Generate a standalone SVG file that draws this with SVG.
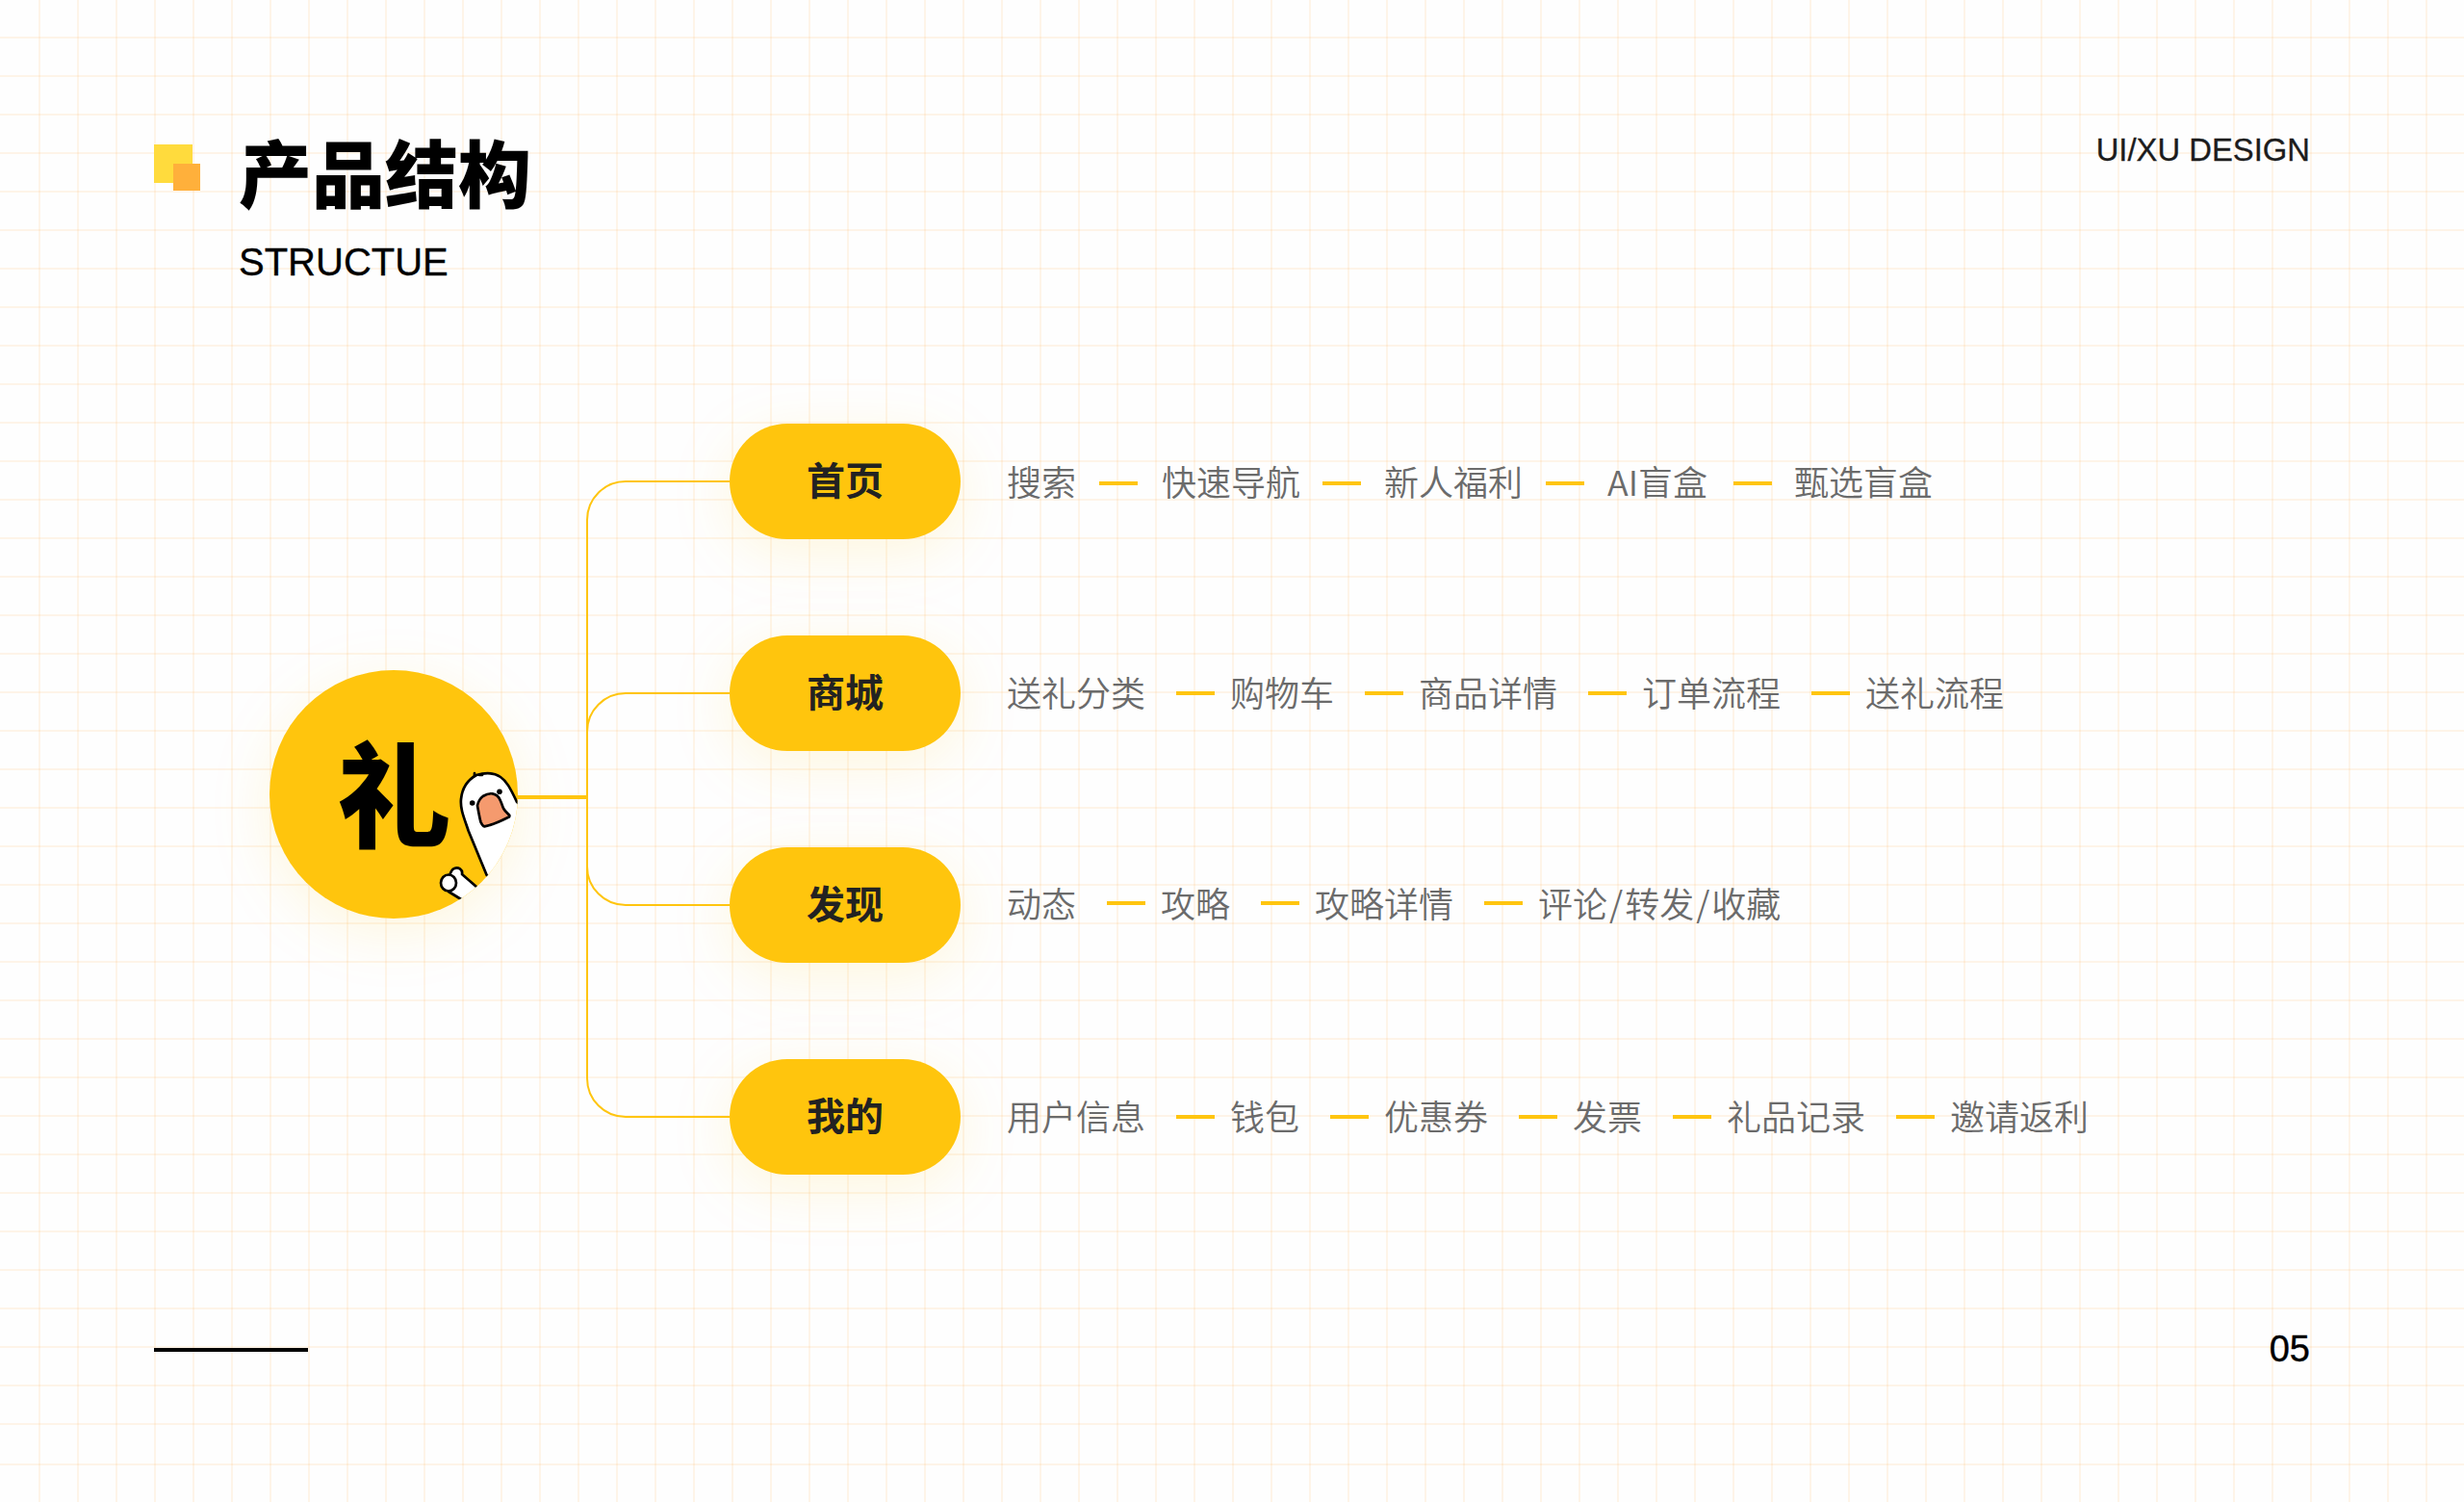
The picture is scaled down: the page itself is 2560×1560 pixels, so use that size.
<svg xmlns="http://www.w3.org/2000/svg" width="2560" height="1560" viewBox="0 0 2560 1560">
<style>
.cn{font-family:"Noto Sans CJK SC","Liberation Sans",sans-serif}
.item{font-family:"Noto Sans CJK SC","Liberation Sans",sans-serif;font-size:36px;fill:#6b6b6b;font-weight:350}
.nav{font-family:"Noto Sans CJK SC",sans-serif;font-size:40px;font-weight:700;fill:#222;text-anchor:middle}
.lat{font-family:"Liberation Sans",Arial,sans-serif;fill:#000}
.dash{stroke:#ffc50f;stroke-width:4;fill:none}
.link{stroke:#ffc50f;stroke-width:2;fill:none}
.pill{fill:#ffc50f;filter:url(#glow)}
.gline{stroke:#000;stroke-width:2.700;stroke-linejoin:round;stroke-linecap:round}
</style>
<defs>
<pattern id="gridV" width="40" height="40" patternUnits="userSpaceOnUse">
<rect x="0" y="0" width="2" height="40" fill="#ffa733" fill-opacity=".11"/>
</pattern>
<pattern id="gridH" width="40" height="40" patternUnits="userSpaceOnUse">
<rect x="0" y="38" width="40" height="2" fill="#ffa733" fill-opacity=".11"/>
</pattern>
<filter id="glow" x="-50%" y="-80%" width="200%" height="280%">
<feDropShadow dx="0" dy="14" stdDeviation="30" flood-color="#ffc50f" flood-opacity=".13"/>
</filter>
<clipPath id="disc"><circle cx="409" cy="825" r="129"/></clipPath>
</defs>
<rect width="2560" height="1560" fill="#fefefe"/>
<rect x="40" y="0" width="2520" height="1560" fill="url(#gridV)"/>
<rect x="0" y="0" width="2560" height="1500" fill="url(#gridH)"/>
<rect x="0" y="1520" width="2560" height="2" fill="#ffa733" fill-opacity=".11"/>

<g id="header">
<rect x="160" y="150" width="40" height="40" fill="#ffdb3d"/>
<rect x="180" y="170" width="28" height="28" fill="#ffb03b"/>
<text class="cn" x="248" y="210" font-size="76" font-weight="900" fill="#000">产品结构</text>
<text class="lat" x="248" y="286" font-size="40" stroke="#000" stroke-width=".3">STRUCTUE</text>
<text class="lat" x="2400" y="167" font-size="32.800" text-anchor="end" style="fill:#1c1c1c" stroke="#1c1c1c" stroke-width=".3">UI/XU DESIGN</text>
</g>

<g id="connectors">
<path class="link" d="M758 500H650a40 40 0 0 0-40 40V1120a40 40 0 0 0 40 40H758"/>
<path class="link" d="M758 720H650a40 40 0 0 0-40 40V900a40 40 0 0 0 40 40H758"/>
<path d="M536 828H610" stroke="#ffc50f" stroke-width="4" fill="none"/>
<path class="dash" d="M1142 502h40M1374 502h40M1606 502h40M1801 502h40"/>
<path class="dash" d="M1222 720h40M1418 720h40M1650 720h40M1882 720h40"/>
<path class="dash" d="M1150 938h40M1310 938h40M1542 938h40"/>
<path class="dash" d="M1222 1160h40M1382 1160h40M1578 1160h40M1738 1160h40M1970 1160h40"/>
</g>

<g id="root">
<circle cx="409" cy="825" r="129" fill="#ffc50f" filter="url(#glow)"/>
<text class="cn" x="409" y="871" font-size="118" font-weight="900" fill="#000" text-anchor="middle">礼</text>
<g clip-path="url(#disc)">
<!-- goose peeking in from the right edge of the disc -->
<path class="gline" fill="#fff" d="M505.700 909L486.700 863C482 849 478 840 479 830C480 820 484 811 495 805C505 802 514 803 520 807C526 811 530 818 537 833L570 860L550 940Z"/>
<path class="gline" fill="#f59a6e" d="M496 836.700C497 832 499 829 501.700 827C505 825 509 824 511.700 824.300C516 825 519 829 520 831.700C522 836 522 838 523.300 840C525 843 528 845 529.300 846.700C529.500 848 528.500 849 527.300 849.300C520 853 511 857 503.300 858.300C501 858 500 855 499.300 853.300C498 848 497 842 496 836.700Z"/>
<circle cx="490.700" cy="834" r="2.800"/>
<circle cx="519" cy="822.300" r="2.800"/>
<path class="gline" fill="#fff" d="M495 921L480 908C481 903 476 900 472 902C469 903 468 906 467 910L466 926L479 934L520 960L530 930Z"/>
<ellipse class="gline" fill="#fff" cx="466" cy="917" rx="8" ry="8.500"/>
</g>
<path class="gline" fill="none" d="M493 803V806M498 805H501"/>
</g>

<g id="nav-home"><rect class="pill" x="758" y="440" width="240" height="120" rx="60"/><text class="nav" x="878" y="514">首页</text></g>
<g id="nav-mall"><rect class="pill" x="758" y="660" width="240" height="120" rx="60"/><text class="nav" x="878" y="734">商城</text></g>
<g id="nav-discover"><rect class="pill" x="758" y="880" width="240" height="120" rx="60"/><text class="nav" x="878" y="954">发现</text></g>
<g id="nav-mine"><rect class="pill" x="758" y="1100" width="240" height="120" rx="60"/><text class="nav" x="878" y="1174">我的</text></g>

<g id="items-home">
<text class="item" x="1046" y="515">搜索</text><text class="item" x="1207" y="515">快速导航</text><text class="item" x="1438" y="515">新人福利</text><text class="item" x="1670" y="515">AI盲盒</text><text class="item" x="1864" y="515">甄选盲盒</text>
</g>
<g id="items-mall">
<text class="item" x="1046" y="734">送礼分类</text><text class="item" x="1278" y="734">购物车</text><text class="item" x="1474" y="734">商品详情</text><text class="item" x="1706" y="734">订单流程</text><text class="item" x="1938" y="734">送礼流程</text>
</g>
<g id="items-discover">
<text class="item" x="1046" y="953">动态</text><text class="item" x="1206" y="953">攻略</text><text class="item" x="1366" y="953">攻略详情</text><text class="item" x="1598" y="953">评论<tspan dx="2">/</tspan><tspan dx="2">转发</tspan><tspan dx="2">/</tspan><tspan dx="2">收藏</tspan></text>
</g>
<g id="items-mine">
<text class="item" x="1046" y="1174">用户信息</text><text class="item" x="1278" y="1174">钱包</text><text class="item" x="1438" y="1174">优惠券</text><text class="item" x="1634" y="1174">发票</text><text class="item" x="1794" y="1174">礼品记录</text><text class="item" x="2026" y="1174">邀请返利</text>
</g>

<g id="footer">
<rect x="160" y="1400" width="160" height="4" fill="#000"/>
<text class="lat" x="2400" y="1414" font-size="38" text-anchor="end" stroke="#000" stroke-width=".4">05</text>
</g>
</svg>
